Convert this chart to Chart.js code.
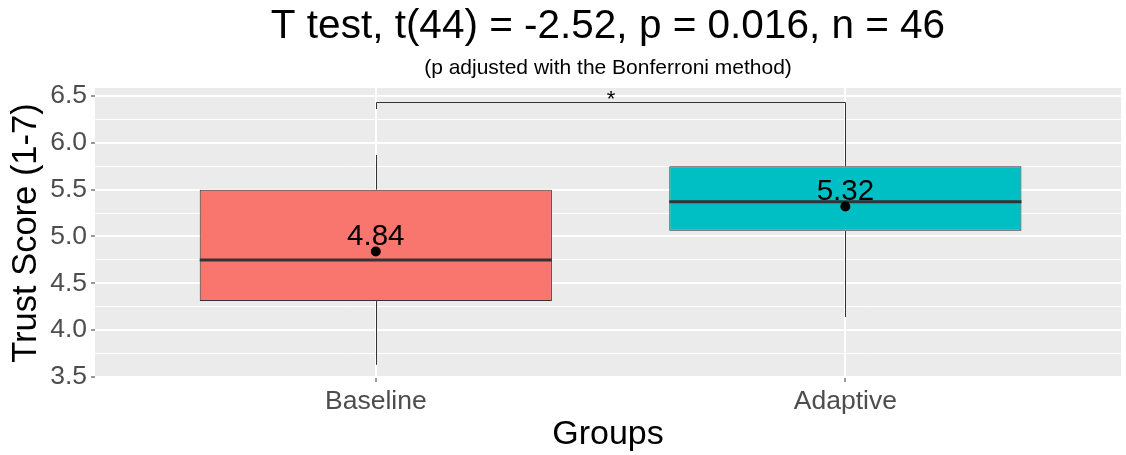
<!DOCTYPE html>
<html>
<head>
<meta charset="utf-8">
<script src="https://cdn.jsdelivr.net/npm/chart.js"></script>
<style>
  html, body { margin: 0; padding: 0; background: #ffffff; }
  #wrap { width: 1126px; height: 455px; }
</style>
</head>
<body>
<div id="wrap"><canvas id="boxChart" width="1126" height="455"></canvas></div>
<script>
const groups = ['Baseline', 'Adaptive'];
const groupPos = [1, 2];
const whiskerLow = [3.63, 4.14];
const q1 = [4.31, 5.06];
const median = [4.75, 5.37];
const q3 = [5.50, 5.75];
const whiskerHigh = [5.87, 6.42];
const means = [4.84, 5.32];
const boxColors = ['#F8766D', '#00BFC4'];
const majorTicks = [3.5, 4.0, 4.5, 5.0, 5.5, 6.0, 6.5];
const minorTicks = [3.75, 4.25, 4.75, 5.25, 5.75, 6.25];
const bracketY = 6.44;
const bracketTip = 6.36;
const bracketLabel = '*';

Chart.defaults.font.family = "'Liberation Sans', Arial, sans-serif";

function isMajor(v)
{
    return majorTicks.some(t => Math.abs(t - v) < 1e-6);
}

const panelBackground = {
    id: 'panelBackground',
    beforeDraw(chart) {
        const ctx = chart.ctx;
        const a = chart.chartArea;
        ctx.save();
        ctx.fillStyle = '#ffffff';
        ctx.fillRect(0, 0, chart.width, chart.height);
        ctx.fillStyle = '#EBEBEB';
        ctx.fillRect(a.left, a.top, a.right - a.left, a.bottom - a.top);
        ctx.restore();
    }
};

// whiskers and median lines on top of the floating bars
const boxParts = {
    id: 'boxParts',
    afterDatasetDraw(chart, args) {
        if (args.index !== 1)
            return;
        const ctx = chart.ctx;
        const y = chart.scales.y;
        const bars = chart.getDatasetMeta(1).data;
        ctx.save();
        ctx.strokeStyle = '#333333';
        bars.forEach((bar, i) => {
            const x = Math.round(bar.x) + 0.5;
            const half = bar.width / 2;
            ctx.lineWidth = 1;
            ctx.beginPath();
            ctx.moveTo(x, y.getPixelForValue(whiskerLow[i]));
            ctx.lineTo(x, y.getPixelForValue(q1[i]));
            ctx.moveTo(x, y.getPixelForValue(q3[i]));
            ctx.lineTo(x, y.getPixelForValue(whiskerHigh[i]));
            ctx.stroke();
            ctx.lineWidth = 3;
            ctx.beginPath();
            ctx.moveTo(bar.x - half, y.getPixelForValue(median[i]));
            ctx.lineTo(bar.x + half, y.getPixelForValue(median[i]));
            ctx.stroke();
        });
        ctx.restore();
    }
};

const annotations = {
    id: 'annotations',
    afterDatasetsDraw(chart) {
        const ctx = chart.ctx;
        const x = chart.scales.x;
        const y = chart.scales.y;
        const points = chart.getDatasetMeta(0).data;
        ctx.save();
        ctx.fillStyle = '#000000';
        ctx.textAlign = 'center';
        ctx.textBaseline = 'alphabetic';
        ctx.font = "29.5px 'Liberation Sans', Arial, sans-serif";
        points.forEach((p, i) => {
            ctx.fillText(means[i].toFixed(2), p.x, p.y - 6);
        });

        const x1 = Math.round(x.getPixelForValue(groupPos[0])) + 0.5;
        const x2 = Math.round(x.getPixelForValue(groupPos[1])) + 0.5;
        const yb = Math.round(y.getPixelForValue(bracketY)) + 0.5;
        const yt = y.getPixelForValue(bracketTip);
        ctx.strokeStyle = '#333333';
        ctx.lineWidth = 1;
        ctx.beginPath();
        ctx.moveTo(x1, yt);
        ctx.lineTo(x1, yb);
        ctx.lineTo(x2, yb);
        ctx.lineTo(x2, yt);
        ctx.stroke();
        ctx.font = "22px 'Liberation Sans', Arial, sans-serif";
        ctx.fillText(bracketLabel, (x1 + x2) / 2, yb + 3);
        ctx.restore();
    }
};

new Chart(document.getElementById('boxChart'), {
    type: 'bar',
    data: {
        datasets: [{
            type: 'scatter',
            label: 'Mean',
            data: groupPos.map((g, i) => ({x: g, y: means[i]})),
            backgroundColor: '#000000',
            borderWidth: 0,
            pointRadius: 5,
            order: 0,
        },
        {
            label: 'IQR',
            data: groupPos.map((g, i) => ({x: g, y: [q1[i], q3[i]]})),
            backgroundColor: boxColors,
            borderColor: '#333333',
            borderWidth: 1,
            borderSkipped: false,
            barPercentage: 0.75,
            categoryPercentage: 1,
            order: 1,
        }]
    },
    options: {
        responsive: false,
        animation: false,
        devicePixelRatio: 1,
        layout: {
            padding: {left: 0, right: 4, top: 0, bottom: 0}
        },
        plugins: {
            legend: {display: false},
            tooltip: {enabled: false},
            title: {
                display: true,
                text: 'T test, t(44) = -2.52, p = 0.016, n = 46',
                color: '#000000',
                font: {size: 40.5, weight: 'normal'},
                padding: {top: 3, bottom: 0},
                fullSize: false,
            },
            subtitle: {
                display: true,
                text: '(p adjusted with the Bonferroni method)',
                color: '#000000',
                font: {size: 21, weight: 'normal'},
                padding: {top: 4, bottom: 7.2},
                fullSize: false,
            }
        },
        scales: {
            x: {
                type: 'linear',
                min: 0.402,
                max: 2.587,
                offset: false,
                afterBuildTicks: s => { s.ticks = groupPos.map(v => ({value: v})); },
                afterFit: s => { s.height = 77; },
                grid: {color: '#ffffff', lineWidth: 2, offset: false, tickColor: '#333333', tickWidth: 1, tickLength: 4},
                border: {display: false},
                ticks: {
                    callback: v => groups[groupPos.indexOf(v)],
                    color: '#4D4D4D',
                    font: {size: 26.5},
                    padding: 4,
                    maxRotation: 0,
                    autoSkip: false,
                },
                title: {display: true, text: 'Groups', color: '#000000', font: {size: 34}, padding: 0}
            },
            y: {
                min: 3.489,
                max: 6.585,
                afterBuildTicks: s => {
                    s.ticks = majorTicks.concat(minorTicks).sort((a, b) => a - b).map(v => ({value: v}));
                },
                afterFit: s => { s.width = 95; },
                grid: {
                    color: '#ffffff',
                    lineWidth: c => isMajor(c.tick.value) ? 2 : 1,
                    tickColor: c => isMajor(c.tick.value) ? '#333333' : 'rgba(0,0,0,0)',
                    tickWidth: 1,
                    tickLength: 4,
                },
                border: {display: false},
                ticks: {
                    callback: v => isMajor(v) ? v.toFixed(1) : '',
                    color: '#4D4D4D',
                    font: {size: 26.5},
                    padding: 4,
                    autoSkip: false,
                },
                title: {display: true, text: 'Trust Score (1-7)', color: '#000000', font: {size: 34.5}, padding: {top: 6, bottom: 0}}
            }
        }
    },
    plugins: [panelBackground, boxParts, annotations]
});
</script>
</body>
</html>
